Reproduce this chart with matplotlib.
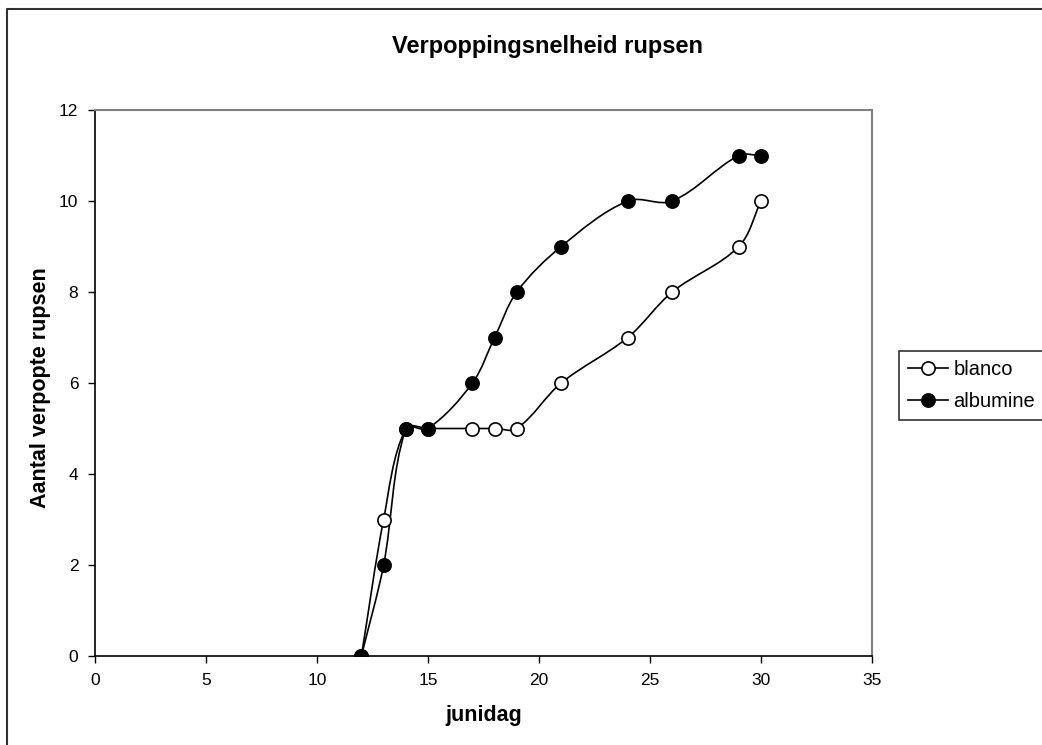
import numpy as np
import matplotlib
matplotlib.use('Agg')
import matplotlib.pyplot as plt
from matplotlib.path import Path
from matplotlib.patches import PathPatch
from matplotlib.lines import Line2D

plt.rcParams['font.family'] = ['Liberation Sans', 'DejaVu Sans']

# data
junidag = [12, 13, 14, 15, 17, 18, 19, 21, 24, 26, 29, 30]
blanco = [0, 3, 5, 5, 5, 5, 5, 6, 7, 8, 9, 10]
albumine = [0, 2, 5, 5, 6, 7, 8, 9, 10, 10, 11, 11]


def smooth_path(x, y, sx, sy):
    # excel-like smoothed line: cubic bezier through every point,
    # tangent length scaled by segment length (in pixel space)
    p = np.column_stack([np.asarray(x) * sx, np.asarray(y) * sy]).astype(float)
    n = len(p)
    tang = []
    for i in range(n):
        a = p[max(i - 1, 0)]
        b = p[min(i + 1, n - 1)]
        d = b - a
        tang.append(d / np.hypot(*d))
    verts = [p[0]]
    codes = [Path.MOVETO]
    for i in range(n - 1):
        L = np.hypot(*(p[i + 1] - p[i]))
        c1 = p[i] + tang[i] * L / 3.0
        c2 = p[i + 1] - tang[i + 1] * L / 3.0
        verts += [c1, c2, p[i + 1]]
        codes += [Path.CURVE4] * 3
    verts = np.array(verts) / [sx, sy]
    return Path(verts, codes)


W, H = 1042, 745
fig = plt.figure(figsize=(W / 100, H / 100), dpi=100)
left, right, top, bottom = 95, 872, 110, 656
ax = fig.add_axes([left / W, 1 - bottom / H, (right - left) / W, (bottom - top) / H])

ax.set_xlim(0, 35)
ax.set_ylim(0, 12)
sx = (right - left) / 35.0
sy = (bottom - top) / 12.0

for ys, face in [(blanco, 'white'), (albumine, 'black')]:
    ax.add_patch(PathPatch(smooth_path(junidag, ys, sx, sy), facecolor='none',
                           edgecolor='black', lw=1.2, zorder=2))
    ax.plot(junidag, ys, ls='none', marker='o', ms=9.5, mfc=face,
            mec='black', mew=1.2, zorder=3)

ax.set_xticks(np.arange(0, 36, 5))
ax.set_yticks(np.arange(0, 13, 2))
ax.tick_params(direction='out', length=5, width=1, labelsize=12.5, pad=7)
ax.spines['top'].set_color('#808080')
ax.spines['right'].set_color('#808080')
for s in ax.spines.values():
    s.set_linewidth(1.2)
ax.spines['top'].set_linewidth(1.5)
ax.spines['right'].set_linewidth(1.5)

fig.text(547 / W, 1 - 47 / H, 'Verpoppingsnelheid rupsen',
         ha='center', va='center', fontsize=17, fontweight='bold')
fig.text(484 / W, 1 - 716 / H, 'junidag', ha='center', va='center',
         fontsize=15.5, fontweight='bold')
fig.text(41 / W, 1 - 388 / H, 'Aantal verpopte rupsen', ha='center',
         va='center', fontsize=15.5, fontweight='bold', rotation=90)

handles = [Line2D([], [], color='black', lw=1.2, marker='o', ms=9.5,
                  mfc='white', mec='black', mew=1.2),
           Line2D([], [], color='black', lw=1.2, marker='o', ms=9.5,
                  mfc='black', mec='black', mew=1.2)]
leg = fig.legend(handles, ['blanco', 'albumine'], loc='upper left',
                 bbox_to_anchor=(899 / W, 1 - 351 / H), fontsize=14.5,
                 frameon=True, fancybox=False, borderpad=0.45,
                 handlelength=2.0, handletextpad=0.25, labelspacing=0.65,
                 borderaxespad=0)
leg.get_frame().set_edgecolor('black')
leg.get_frame().set_linewidth(1.2)

# outer chart frame (runs off the right/bottom edge)
fig.add_artist(Line2D([6.5 / W, 6.5 / W, 1.01], [-0.01, 1 - 8.5 / H, 1 - 8.5 / H],
                      color='#303030', lw=1.5, transform=fig.transFigure))

fig.savefig('out.png', dpi=100)
